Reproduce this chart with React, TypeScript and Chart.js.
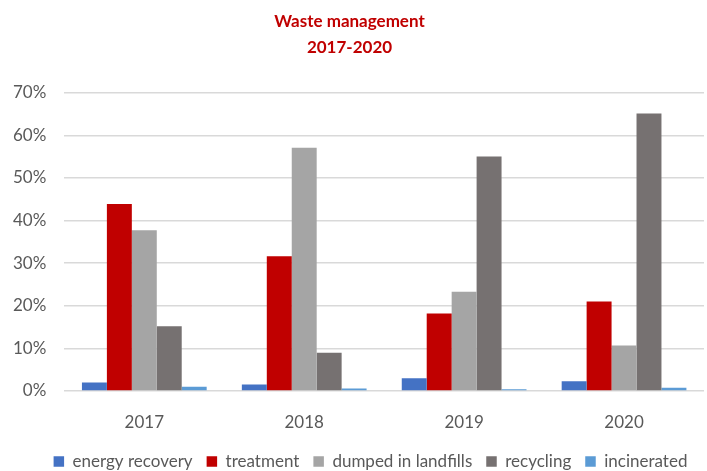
import React, { useEffect, useRef } from "react";
import { Chart, registerables } from "chart.js";

Chart.register(...registerables);

const years = ["2017", "2018", "2019", "2020"];
const energyRecovery = [2.0, 1.5, 3.0, 2.3];
const treatment = [43.9, 31.6, 18.2, 21.0];
const dumpedInLandfills = [37.7, 57.1, 23.3, 10.7];
const recycling = [15.2, 9.0, 55.0, 65.1];
const incinerated = [1.0, 0.6, 0.4, 0.75];
const yTicks = [0, 10, 20, 30, 40, 50, 60, 70];

const FONT = "Lato, 'Open Sans', sans-serif";

const legendShift = {
  id: "legendShift",
  afterLayout(chart: any) {
    if (chart.legend) {
      chart.legend.left += 21;
      chart.legend.right += 21;
    }
  },
};

export default function App() {
  const ref = useRef<HTMLCanvasElement | null>(null);
  useEffect(() => {
    document.body.style.margin = "0";
    if (!ref.current) return;
    const mk = (label: string, data: number[], color: string) => ({
      label,
      data,
      backgroundColor: color,
      borderWidth: 0,
      categoryPercentage: 0.78,
      barPercentage: 1.0,
    });
    const chart = new Chart(ref.current, {
      type: "bar",
      data: {
        labels: years,
        datasets: [
          mk("energy recovery", energyRecovery, "#4472C4"),
          mk("treatment", treatment, "#C00000"),
          mk("dumped in landfills", dumpedInLandfills, "#A5A5A5"),
          mk("recycling", recycling, "#767171"),
          mk("incinerated", incinerated, "#5B9BD5"),
        ],
      },
      plugins: [legendShift],
      options: {
        animation: false,
        responsive: false,
        maintainAspectRatio: false,
        layout: { padding: { left: -5, right: 3, top: 0, bottom: -9 } },
        plugins: {
          title: {
            display: true,
            text: ["Waste management", "2017-2020"],
            color: "#C00000",
            font: { family: FONT, size: 17, weight: "bold", lineHeight: 1.55 },
            padding: { top: 8, bottom: 32 },
          },
          legend: {
            position: "bottom",
            labels: {
              boxWidth: 10.5,
              boxHeight: 10.5,
              color: "#595959",
              font: { family: FONT, size: 17 },
              padding: 14,
            },
          },
          tooltip: { enabled: false },
        },
        scales: {
          x: {
            grid: { display: false },
            border: { display: false },
            ticks: { color: "#595959", font: { family: FONT, size: 17 }, padding: 13 },
            afterFit: (axis: any) => {
              axis.height = 48;
            },
          },
          y: {
            min: 0,
            max: 70,
            afterBuildTicks: (axis: any) => {
              axis.ticks = yTicks.map((v) => ({ value: v }));
            },
            grid: { color: "#D9D9D9", lineWidth: 1.5, drawTicks: false },
            border: { display: false },
            ticks: {
              color: "#595959",
              font: { family: FONT, size: 17 },
              padding: 18,
              callback: (v: any) => v + "%",
            },
          },
        },
      },
    });
    return () => chart.destroy();
  }, []);
  return (
    <div style={{ width: 707, height: 471, background: "#fff" }}>
      <canvas ref={ref} width={707} height={471} />
    </div>
  );
}
